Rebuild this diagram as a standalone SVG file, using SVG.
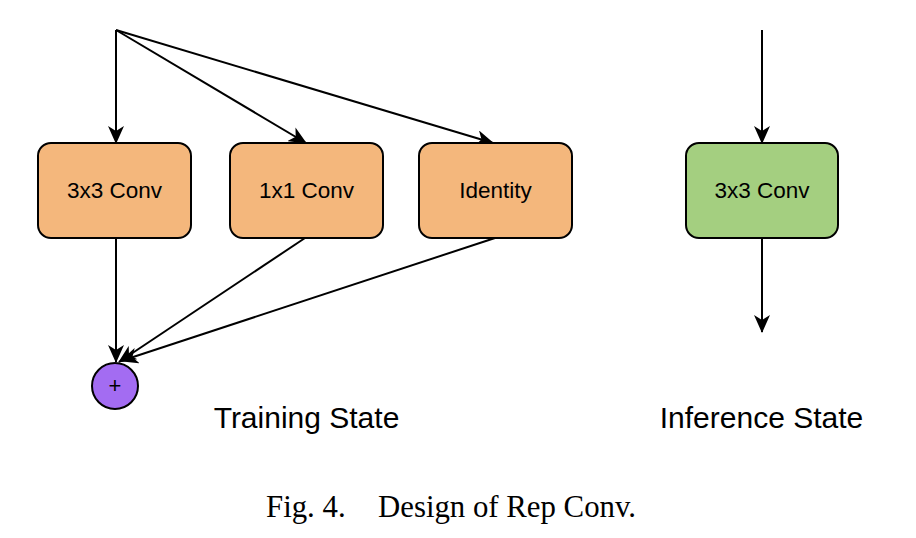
<svg xmlns="http://www.w3.org/2000/svg" width="916" height="538" viewBox="0 0 916 538">
<style>
.box{stroke:#000;stroke-width:2}
.orange{fill:#F4B77C}
.green{fill:#A4CF80}
.lbl{font-family:"Liberation Sans",Arial,sans-serif;font-size:22.5px;fill:#000;text-anchor:middle}
.title{font-family:"Liberation Sans",Arial,sans-serif;font-size:30px;fill:#000;text-anchor:middle}
.cap{font-family:"Liberation Serif","Times New Roman",serif;font-size:30.8px;fill:#000}
.edge{stroke:#000;stroke-width:2;fill:none;marker-end:url(#arr)}
</style>
<defs>
<marker id="arr" viewBox="0 0 18 16" refX="17" refY="8" markerWidth="18" markerHeight="16" markerUnits="userSpaceOnUse" orient="auto">
<path d="M0,0 L18,8 L0,16 L5,8 Z" fill="#000"/>
</marker>
</defs>
<rect width="916" height="538" fill="#fff"/>
<g id="connectors">
<line class="edge" x1="116" y1="30" x2="116" y2="143"/>
<line class="edge" x1="116" y1="30" x2="306" y2="143"/>
<line class="edge" x1="116" y1="30" x2="493" y2="143"/>
<line class="edge" x1="116" y1="238" x2="116" y2="362"/>
<line class="edge" x1="305" y1="238" x2="119" y2="362"/>
<line class="edge" x1="495" y1="238" x2="121" y2="361"/>
<line class="edge" x1="762" y1="30" x2="762" y2="143"/>
<line class="edge" x1="762" y1="238" x2="762" y2="332"/>
</g>
<g id="conv3x3">
<rect class="box orange" x="38" y="143" width="153" height="95" rx="13"/>
<text class="lbl" x="114.5" y="198">3x3 Conv</text>
</g>
<g id="conv1x1">
<rect class="box orange" x="230" y="143" width="153" height="95" rx="13"/>
<text class="lbl" x="306.5" y="198">1x1 Conv</text>
</g>
<g id="identity">
<rect class="box orange" x="419" y="143" width="153" height="95" rx="13"/>
<text class="lbl" x="495.5" y="198">Identity</text>
</g>
<g id="add">
<circle cx="115" cy="386" r="23" fill="#A36CF2" stroke="#000" stroke-width="2"/>
<text x="115" y="393" font-family="Liberation Sans,Arial,sans-serif" font-size="22" text-anchor="middle">+</text>
</g>
<g id="conv3x3-inference">
<rect class="box green" x="686" y="143" width="152" height="95" rx="13"/>
<text class="lbl" x="762" y="198">3x3 Conv</text>
</g>
<text class="title" x="306.5" y="428">Training State</text>
<text class="title" x="761.5" y="428">Inference State</text>
<text class="cap" y="517"><tspan x="266">Fig. 4.</tspan><tspan x="378">Design of Rep Conv.</tspan></text>
</svg>
